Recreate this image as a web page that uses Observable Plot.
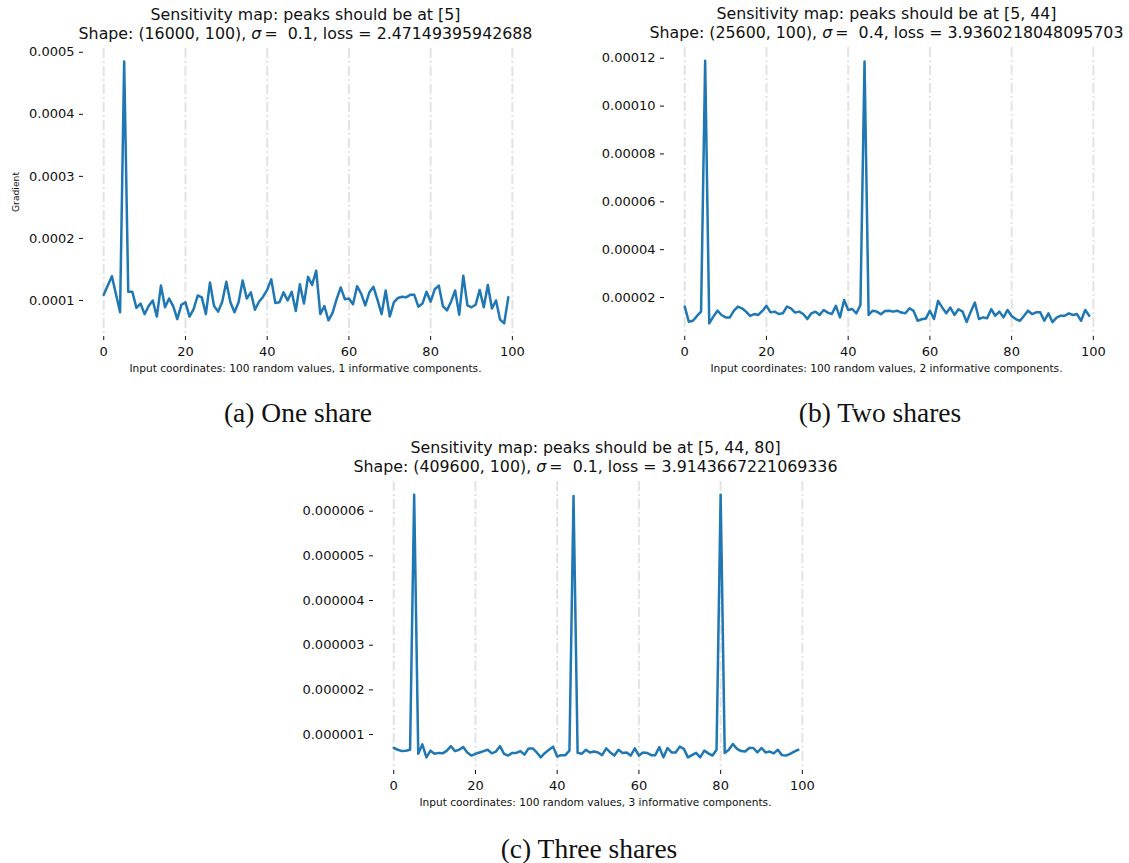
<!DOCTYPE html>
<html>
<head>
<meta charset="utf-8">
<script src="https://cdn.jsdelivr.net/npm/d3@7"></script>
<script src="https://cdn.jsdelivr.net/npm/@observablehq/plot@0.6"></script>
<style>
  html, body { margin: 0; padding: 0; background: #fff; }
  #page { position: relative; width: 1129px; height: 863px; overflow: hidden; font-family: "DejaVu Sans", sans-serif; color: #111; }
  .abs { position: absolute; }
  .title { font-size: 15.8px; line-height: 19.8px; text-align: center; white-space: nowrap; }
  .cap { font-size: 10.6px; line-height: 12px; text-align: center; white-space: nowrap; }
  .sub { font-family: "Liberation Serif", "DejaVu Serif", serif; font-size: 27.5px; line-height: 30px; text-align: center; white-space: nowrap; }
  .sig { font-style: italic; }
</style>
</head>
<body>
<div id="page"></div>
<script>
// ---------- data ----------
const coords = Array.from({length: 100}, (_, i) => i);
const xTicks = [0, 20, 40, 60, 80, 100];

const gradA = [
  1.09e-4,1.24e-4,1.39e-4,1.10e-4,0.81e-4,4.85e-4,1.14e-4,1.14e-4,0.88e-4,0.95e-4,
  0.78e-4,0.91e-4,1.00e-4,0.74e-4,1.24e-4,0.89e-4,1.03e-4,0.91e-4,0.70e-4,0.93e-4,
  0.97e-4,0.74e-4,0.86e-4,1.08e-4,1.05e-4,0.78e-4,1.29e-4,0.91e-4,0.82e-4,0.98e-4,
  1.30e-4,0.97e-4,0.81e-4,0.97e-4,1.32e-4,1.03e-4,1.13e-4,0.85e-4,0.98e-4,1.06e-4,
  1.17e-4,1.34e-4,0.96e-4,0.97e-4,1.13e-4,1.00e-4,1.14e-4,0.83e-4,1.26e-4,0.95e-4,
  1.38e-4,1.25e-4,1.48e-4,0.78e-4,0.91e-4,0.68e-4,0.80e-4,1.02e-4,1.21e-4,1.02e-4,
  1.03e-4,0.94e-4,1.23e-4,1.11e-4,0.92e-4,1.13e-4,1.22e-4,1.01e-4,0.78e-4,1.16e-4,
  0.74e-4,0.97e-4,1.04e-4,1.06e-4,1.05e-4,1.09e-4,1.09e-4,0.90e-4,0.95e-4,1.14e-4,
  0.98e-4,1.18e-4,1.24e-4,0.91e-4,0.84e-4,0.98e-4,1.16e-4,0.77e-4,1.40e-4,0.92e-4,
  0.89e-4,0.93e-4,1.17e-4,0.89e-4,1.25e-4,0.87e-4,1.00e-4,0.69e-4,0.63e-4,1.05e-4
];
const gradB = [
  1.62e-5,0.99e-5,1.03e-5,1.23e-5,1.41e-5,11.9e-5,0.92e-5,1.20e-5,1.45e-5,1.27e-5,
  1.17e-5,1.16e-5,1.44e-5,1.62e-5,1.55e-5,1.41e-5,1.23e-5,1.31e-5,1.27e-5,1.44e-5,
  1.65e-5,1.38e-5,1.41e-5,1.31e-5,1.34e-5,1.62e-5,1.55e-5,1.37e-5,1.41e-5,1.31e-5,
  1.10e-5,1.34e-5,1.41e-5,1.27e-5,1.48e-5,1.37e-5,1.31e-5,1.65e-5,1.17e-5,1.90e-5,
  1.48e-5,1.52e-5,1.34e-5,1.69e-5,11.86e-5,1.27e-5,1.45e-5,1.41e-5,1.30e-5,1.44e-5,
  1.45e-5,1.41e-5,1.45e-5,1.37e-5,1.34e-5,1.55e-5,1.44e-5,1.03e-5,1.09e-5,1.12e-5,
  1.45e-5,1.10e-5,1.86e-5,1.59e-5,1.34e-5,1.58e-5,1.27e-5,1.51e-5,1.41e-5,0.98e-5,
  1.41e-5,1.79e-5,1.10e-5,1.17e-5,1.13e-5,1.51e-5,1.24e-5,1.41e-5,1.17e-5,1.48e-5,
  1.23e-5,1.10e-5,1.02e-5,1.23e-5,1.45e-5,1.31e-5,1.38e-5,1.38e-5,1.03e-5,1.34e-5,
  0.97e-5,1.16e-5,1.24e-5,1.24e-5,1.34e-5,1.27e-5,1.31e-5,1.03e-5,1.48e-5,1.24e-5
];
const gradC = [
  0.70e-6,0.66e-6,0.63e-6,0.64e-6,0.66e-6,6.37e-6,0.57e-6,0.78e-6,0.49e-6,0.64e-6,
  0.57e-6,0.59e-6,0.58e-6,0.64e-6,0.74e-6,0.63e-6,0.66e-6,0.72e-6,0.60e-6,0.53e-6,
  0.57e-6,0.60e-6,0.63e-6,0.66e-6,0.58e-6,0.62e-6,0.74e-6,0.57e-6,0.53e-6,0.59e-6,
  0.59e-6,0.63e-6,0.55e-6,0.69e-6,0.69e-6,0.60e-6,0.49e-6,0.59e-6,0.66e-6,0.73e-6,
  0.51e-6,0.54e-6,0.54e-6,0.64e-6,6.34e-6,0.59e-6,0.57e-6,0.66e-6,0.60e-6,0.62e-6,
  0.60e-6,0.54e-6,0.69e-6,0.60e-6,0.53e-6,0.66e-6,0.59e-6,0.60e-6,0.53e-6,0.69e-6,
  0.53e-6,0.60e-6,0.59e-6,0.54e-6,0.54e-6,0.72e-6,0.49e-6,0.70e-6,0.60e-6,0.60e-6,
  0.73e-6,0.68e-6,0.49e-6,0.54e-6,0.59e-6,0.49e-6,0.64e-6,0.58e-6,0.53e-6,0.66e-6,
  6.37e-6,0.59e-6,0.66e-6,0.79e-6,0.68e-6,0.63e-6,0.62e-6,0.70e-6,0.70e-6,0.60e-6,
  0.70e-6,0.60e-6,0.62e-6,0.58e-6,0.66e-6,0.54e-6,0.53e-6,0.57e-6,0.62e-6,0.66e-6
];

const yTicksA = [0.0001, 0.0002, 0.0003, 0.0004, 0.0005];
const yTicksB = [0.00002, 0.00004, 0.00006, 0.00008, 0.00010, 0.00012];
const yTicksC = [0.000001, 0.000002, 0.000003, 0.000004, 0.000005, 0.000006];

const titlesA = ["Sensitivity map: peaks should be at [5]", "(16000, 100)", "0.1", "2.47149395942688"];
const titlesB = ["Sensitivity map: peaks should be at [5, 44]", "(25600, 100)", "0.4", "3.9360218048095703"];
const titlesC = ["Sensitivity map: peaks should be at [5, 44, 80]", "(409600, 100)", "0.1", "3.9143667221069336"];
const captions = [
  "Input coordinates: 100 random values, 1 informative components.",
  "Input coordinates: 100 random values, 2 informative components.",
  "Input coordinates: 100 random values, 3 informative components."
];
const subLabels = ["(a) One share", "(b) Two shares", "(c) Three shares"];
const yLabel = "Gradient";

// ---------- drawing ----------
const page = document.getElementById("page");

function centeredDiv(cls, cx, top, w) {
  const d = document.createElement("div");
  d.className = "abs " + cls;
  d.style.left = (cx - w / 2) + "px";
  d.style.width = w + "px";
  d.style.top = top + "px";
  page.appendChild(d);
  return d;
}

function makePanel(cfg) {
  const [lo, hi] = d3.extent(cfg.values);
  const pad = 0.05 * (hi - lo);
  const xlo = d3.min(coords), xhi = d3.max(coords);
  const xpad = 0.05 * (xhi - xlo);
  const plot = Plot.plot({
    width: cfg.ml + cfg.w + cfg.mr,
    height: cfg.mt + cfg.h + cfg.mb,
    marginLeft: cfg.ml, marginRight: cfg.mr, marginTop: cfg.mt, marginBottom: cfg.mb,
    style: {fontFamily: "DejaVu Sans", fontSize: "13px", color: "#111", background: "transparent", overflow: "visible"},
    x: {domain: [xlo - xpad, xhi + xpad]},
    y: {domain: [lo - pad, hi + pad]},
    marks: [
      Plot.ruleX(xTicks, {stroke: "#e3e3e3", strokeWidth: 2, strokeDasharray: "10,3,2,3"}),
      Plot.lineY(cfg.values, {x: coords, stroke: "#1f77b4", strokeWidth: 2.5, strokeLinejoin: "round"}),
      Plot.axisX({ticks: xTicks, tickSize: 4, tickPadding: 6, label: null, tickFormat: d3.format("d")}),
      Plot.axisY({ticks: cfg.yTicks, tickSize: 4, tickPadding: 5, label: null, tickFormat: d3.format(cfg.fmt)})
    ]
  });
  plot.style.position = "absolute";
  plot.style.left = cfg.left + "px";
  plot.style.top = cfg.top + "px";
  page.appendChild(plot);

  const axL = cfg.left + cfg.ml, axT = cfg.top + cfg.mt;
  const cx = axL + cfg.w / 2;

  const t = centeredDiv("title", cx, axT - 43.5, 600);
  t.innerHTML = cfg.titles[0] + "<br>Shape: " + cfg.titles[1] +
    ", <span class='sig'>σ</span>\u2009=\u00a0\u00a0" + cfg.titles[2] + ", loss = " + cfg.titles[3];

  const c = centeredDiv("cap", cx, axT + cfg.h + 26, 500);
  c.textContent = cfg.caption;

  const s = centeredDiv("sub", cfg.subX, cfg.subY - 15, 300);
  s.textContent = cfg.sub;
}

makePanel({left: 0, top: 0, ml: 83, mr: 14, mt: 48, mb: 30, w: 445, h: 288,
  values: gradA, yTicks: yTicksA, fmt: ".4f", titles: titlesA, caption: captions[0],
  sub: subLabels[0], subX: 298, subY: 413});
makePanel({left: 564, top: 0, ml: 100, mr: 15, mt: 47, mb: 30, w: 445, h: 289,
  values: gradB, yTicks: yTicksB, fmt: ".5f", titles: titlesB, caption: captions[1],
  sub: subLabels[1], subX: 880, subY: 413});
makePanel({left: 273, top: 430, ml: 100, mr: 20, mt: 51, mb: 30, w: 445, h: 289,
  values: gradC, yTicks: yTicksC, fmt: ".6f", titles: titlesC, caption: captions[2],
  sub: subLabels[2], subX: 589, subY: 849});

// y label for panel (a)
const g = document.createElement("div");
g.className = "abs";
g.style.cssText = "left:-14px;top:186px;width:60px;text-align:center;font-size:9.2px;line-height:12px;transform:rotate(-90deg);";
g.textContent = yLabel;
page.appendChild(g);
</script>
</body>
</html>
